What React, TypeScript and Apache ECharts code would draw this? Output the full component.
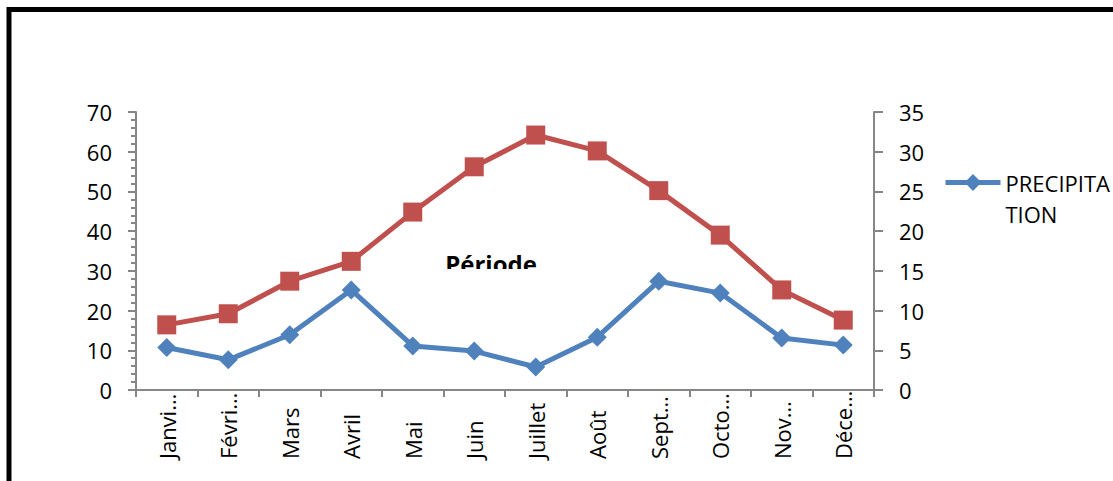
import React, { useEffect, useRef } from "react";
import * as echarts from "echarts";

const months = ["Janvier", "Février", "Mars", "Avril", "Mai", "Juin", "Juillet", "Août", "Septembre", "Octobre", "Novembre", "Décembre"];
const tickLabels = ["Janvi…", "Févri…", "Mars", "Avril", "Mai", "Juin", "Juillet", "Août", "Sept…", "Octo…", "Nov…", "Déce…"];
const precipitation = [10.7, 7.6, 13.9, 25.2, 11.1, 9.8, 5.8, 13.3, 27.4, 24.4, 13.1, 11.3];
const temperature = [8.2, 9.6, 13.7, 16.2, 22.4, 28.1, 32.1, 30.1, 25.1, 19.5, 12.6, 8.8];
const leftTicks = { min: 0, max: 70, interval: 10 };
const rightTicks = { min: 0, max: 35, interval: 5 };
const axisTitle = "Période";
const legendName = "PRECIPITATION";

const FONT = "'Open Sans', 'Liberation Sans', Arial, sans-serif";
const GRAY = "#868686";
const BLUE = "#4F81BD";
const RED = "#C0504D";

export default function App() {
  const ref = useRef<HTMLDivElement>(null);
  useEffect(() => {
    if (!ref.current) return;
    const chart = echarts.init(ref.current, undefined, { renderer: "svg" });
    chart.setOption({
      animation: false,
      backgroundColor: "#ffffff",
      textStyle: { fontFamily: FONT },
      grid: { left: 136, right: 239, top: 112, bottom: 91, containLabel: false },
      legend: {
        data: [legendName],
        left: 943,
        top: 136,
        padding: 0,
        itemWidth: 55,
        itemHeight: 21,
        lineStyle: { width: 5 },
        formatter: () => "\nPRECIPITA\nTION",
        textStyle: { fontFamily: FONT, fontSize: 22, color: "#000", lineHeight: 31 },
      },
      xAxis: {
        type: "category",
        data: months,
        boundaryGap: true,
        axisLine: { show: true, lineStyle: { color: GRAY, width: 2 } },
        axisTick: { show: true, length: 7, interval: 0, lineStyle: { color: GRAY, width: 2 } },
        axisLabel: {
          interval: 0,
          rotate: 90,
          margin: 69,
          align: "left",
          verticalAlign: "middle",
          fontSize: 22,
          fontFamily: FONT,
          color: "#000",
          formatter: (_v: string, i: number) => tickLabels[i],
        },
        splitLine: { show: false },
      },
      yAxis: [
        {
          type: "value",
          position: "left",
          min: leftTicks.min,
          max: leftTicks.max,
          interval: leftTicks.interval,
          axisLine: { show: true, lineStyle: { color: GRAY, width: 2 } },
          axisTick: { show: true, length: 8, lineStyle: { color: GRAY, width: 2 } },
          minorTick: { show: true, splitNumber: 5, length: 5, lineStyle: { color: GRAY, width: 2 } },
          axisLabel: { margin: 24, fontSize: 22, fontFamily: FONT, color: "#000" },
          splitLine: { show: false },
        },
        {
          type: "value",
          position: "right",
          min: rightTicks.min,
          max: rightTicks.max,
          interval: rightTicks.interval,
          axisLine: { show: true, lineStyle: { color: GRAY, width: 2 } },
          axisTick: { show: true, length: 9, lineStyle: { color: GRAY, width: 2 } },
          axisLabel: { margin: 25, fontSize: 22, fontFamily: FONT, color: "#000" },
          splitLine: { show: false },
        },
      ],
      graphic: [
        {
          type: "rect",
          shape: { x: 9, y: 9.5, width: 1300, height: 700 },
          style: { fill: "none", stroke: "#000", lineWidth: 5 },
          silent: true,
          z: 100,
        },
        {
          type: "text",
          x: 491,
          y: 251,
          z: 1,
          style: {
            text: axisTitle,
            fontFamily: FONT,
            fontWeight: "bold",
            fontSize: 24,
            fill: "#000",
            textAlign: "center",
            textVerticalAlign: "top",
          },
        },
        {
          type: "rect",
          z: 2,
          shape: { x: 430, y: 269, width: 120, height: 20 },
          style: { fill: "#ffffff" },
        },
      ],
      series: [
        {
          name: "TEMPERATURE",
          type: "line",
          yAxisIndex: 1,
          data: temperature,
          symbol: "rect",
          symbolSize: 19,
          lineStyle: { color: RED, width: 5 },
          itemStyle: { color: RED },
          z: 3,
        },
        {
          name: legendName,
          type: "line",
          yAxisIndex: 0,
          data: precipitation,
          symbol: "diamond",
          symbolSize: 19,
          lineStyle: { color: BLUE, width: 5 },
          itemStyle: { color: BLUE },
          z: 4,
        },
      ],
    });
    return () => chart.dispose();
  }, []);
  return <div ref={ref} style={{ position: "fixed", left: 0, top: 0, width: 1113, height: 481 }} />;
}
